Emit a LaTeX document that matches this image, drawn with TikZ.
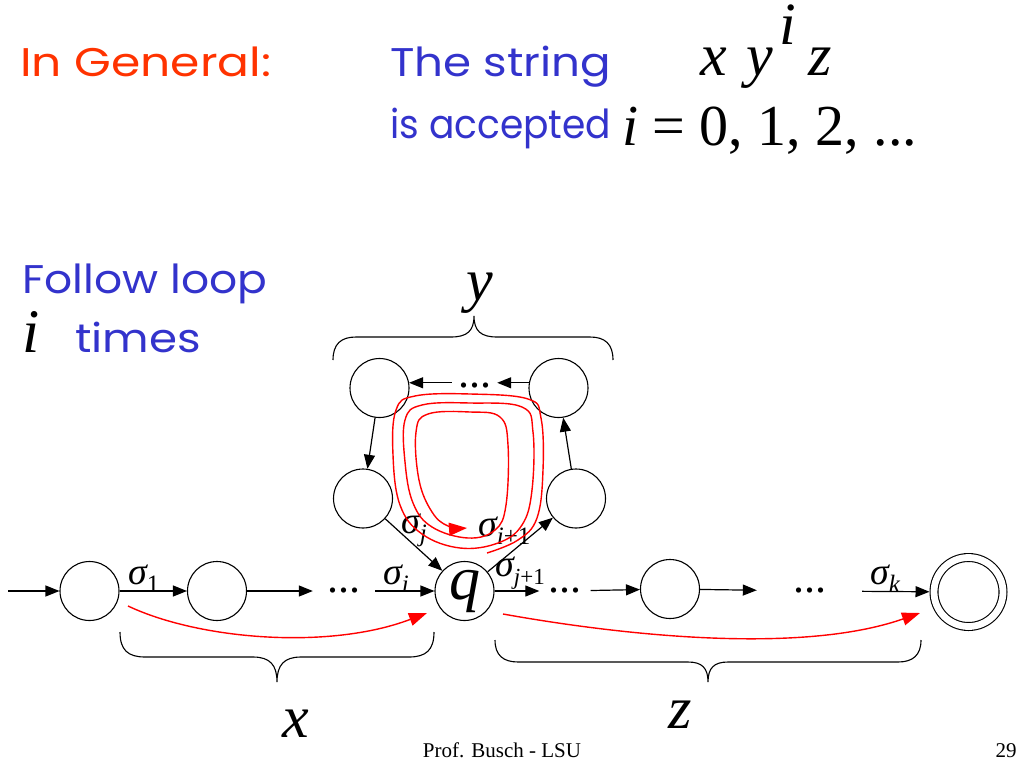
\documentclass[tikz,border=0pt]{standalone}
\usepackage{fontspec}
\setmainfont{Liberation Serif}
\newfontfamily\comicfont{Poppins}
\usetikzlibrary{arrows.meta}
\definecolor{headred}{RGB}{255,51,0}
\definecolor{textblue}{RGB}{51,51,204}
\definecolor{pathred}{RGB}{255,0,0}
\newcommand\sbs[1]{\raisebox{-8pt}{\fontsize{25}{25}\selectfont #1}}
\begin{document}
\begin{tikzpicture}[x=1pt,y=-1pt,
  st/.style={circle,draw,line width=1.1pt,minimum size=59pt,inner sep=0pt},
  accst/.style={circle,draw,line width=1.1pt,double,double distance=6.8pt,minimum size=69pt,inner sep=0pt,outer sep=4.5pt},
  arr/.style={-{Triangle[length=14pt,width=11pt]},line width=1.2pt},
  redarr/.style={-{Triangle[length=18pt,width=13pt]},line width=1.4pt,draw=pathred,fill=none,color=pathred},
  lab/.style={anchor=base west,inner sep=0pt,font=\fontsize{38}{38}\selectfont\itshape},
  dotn/.style={inner sep=0pt,font=\fontsize{44}{44}\selectfont},
  head/.style={anchor=base west,inner sep=0pt,font=\comicfont\fontsize{40}{40}\selectfont},
  bigmath/.style={inner sep=0pt,font=\fontsize{60}{60}\selectfont\itshape},
  brace/.style={line width=1.1pt}]
\useasboundingbox (0,0) rectangle (1024,768);
\fill[white] (0,0) rectangle (1024,768);

% headings
\node[head,text=headred,xscale=1.18,transform shape] (gen) at (20,77) {In General:};
\node[head,text=textblue,xscale=1.13,transform shape] (str) at (390,77) {The string};
\node[head,text=textblue,xscale=0.94,transform shape] (acc) at (390,138) {is accepted};
\node[bigmath,anchor=base west] (mx) at (700,75) {x};
\node[bigmath,anchor=base west] (my) at (746,75) {y};
\node[bigmath,anchor=base west] (mi) at (779,45) {i};
\node[bigmath,anchor=base west] (mz) at (808,75) {z};
\node[anchor=base west,inner sep=0pt,font=\fontsize{58}{58}\selectfont] (eq) at (622,145) {{\itshape i} = 0, 1, 2, ...};

\node[head,text=textblue,xscale=1.1,transform shape] (fol) at (22,293) {Follow loop};
\node[anchor=base west,inner sep=0pt,font=\fontsize{62}{62}\selectfont\itshape] (bigi) at (22,352) {i};
\node[head,text=textblue,xscale=1.13,transform shape] (tim) at (75,352) {times};

% states on the main row
\coordinate (in) at (8,591);
\node[st] (s0) at (89.5,591) {};
\node[st] (s1) at (217,591) {};
\node[dotn,minimum width=62pt] (d1) at (344,591) {...};
\node[st] (q) at (464.5,591) {\fontsize{62}{62}\selectfont\itshape q};
\node[dotn,minimum width=51pt] (d2) at (565,591) {...};
\node[st] (s5) at (670,589) {};
\node[dotn,minimum width=105pt] (d3) at (809.5,591) {...};
\node[accst] (f) at (968.5,592) {};

\draw[arr] (in) -- (s0);
\draw[arr] (s0) -- (s1);
\draw[arr] (s1) -- (d1);
\draw[arr] (d1) -- (q);
\draw[arr] (q) -- (d2);
\draw[arr] (d2) -- (s5);
\draw[arr] (s5) -- (d3);
\draw[arr] (d3) -- (f);

\node[lab] (l1) at (128,584) {σ\sbs{\upshape 1}};
\node[lab] (li) at (383,584) {σ\sbs{i}};
\node[lab] (lj1) at (495,576) {σ\raisebox{-8pt}{\fontsize{23}{23}\selectfont j\upshape +1}};
\node[lab] (lk) at (870,584) {σ\sbs{k}};

% loop
\node[st] (tl) at (379.5,388) {};
\node[st] (tr) at (558.5,388) {};
\node[st] (ml) at (363,498.5) {};
\node[st] (mr) at (576,498.5) {};
\node[dotn,minimum width=45pt] (dt) at (474.5,386) {...};
\draw[arr] (tr.170) -- (tr.170 -| dt.east);
\draw[arr] (tl.10 -| dt.west) -- (tl.10);
\draw[arr] (tl) -- (ml);
\draw[arr] (ml) -- (q);
\draw[arr] (q) -- (mr);
\draw[arr] (mr) -- (tr);
\node[lab] (lj) at (401,533) {σ\sbs{j}};
\node[lab] (li1) at (478,536) {σ\sbs{i\upshape +1}};

% red paths
\draw[redarr] plot[smooth,tension=0.65] coordinates {(487,553) (518,540) (537,518) (543,470) (541,418) (528,399) (470,394) (415,396) (396,410) (393,455) (400,505) (422,534) (460,548) (498,543) (522,525) (532,490) (533,432) (522,407) (470,403) (422,405) (405,420) (405,462) (413,503) (432,527) (468,538) (495,530) (506,505) (508,445) (500,417) (470,412) (428,414) (416,432) (419,480) (432,512) (448,526) (467,528)};
\coordinate (xs) at (128,606);
\coordinate (xe) at (427,613);
\draw[redarr] (xs) .. controls (200,640) and (330,650) .. (xe);
\coordinate (zs) at (503,614);
\coordinate (ze) at (920,613);
\draw[redarr] (zs) .. controls (620,635) and (800,655) .. (ze);

% braces
\draw[brace] (333,360) .. controls (333,344) and (341,337) .. (356,337) -- (451,337) .. controls (467,337) and (474,331) .. (474,316) .. controls (474,331) and (481,337) .. (497,337) -- (590,337) .. controls (605,337) and (613,344) .. (613,360);
\draw[brace] (120,632) .. controls (120,650) and (128,657) .. (145,657) -- (253,657) .. controls (270,657) and (277,665) .. (277,682) .. controls (277,665) and (284,657) .. (301,657) -- (409,657) .. controls (426,657) and (434,650) .. (434,632);
\draw[brace] (495,640) .. controls (495,655) and (503,662) .. (518,662) -- (688,662) .. controls (702,662) and (708,668) .. (708,682) .. controls (708,668) and (714,662) .. (728,662) -- (898,662) .. controls (913,662) and (921,655) .. (921,640);

\node[bigmath,anchor=base] (ly) at (480,300) {y};
\node[bigmath,anchor=base] (lx) at (296,737) {x};
\node[bigmath,anchor=base] (lz) at (680,728) {z};

\node[anchor=base,inner sep=0pt,font=\fontsize{21}{21}\selectfont] (foot) at (502,757) {Prof. Busch - LSU};
\node[anchor=base,inner sep=0pt,font=\fontsize{21}{21}\selectfont] (pg) at (1006,757) {29};
\end{tikzpicture}
\end{document}
